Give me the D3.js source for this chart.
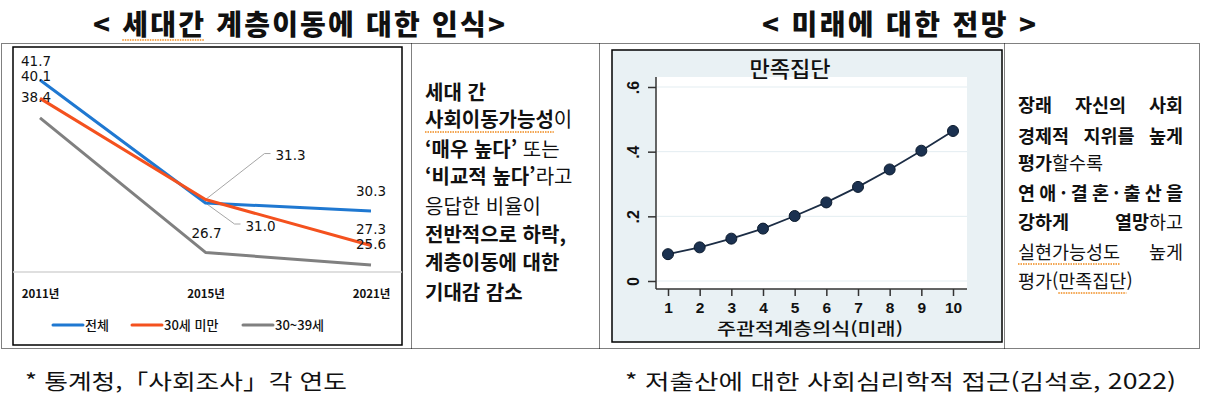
<!DOCTYPE html>
<html lang="ko">
<head>
<meta charset="utf-8">
<script src="https://cdn.jsdelivr.net/npm/d3@7"></script>
<style>
  html, body { margin: 0; padding: 0; background: #fff; }
  svg { display: block; }
  text { fill: #111; }
</style>
</head>
<body>
<svg id="fig" width="1214" height="401"></svg>
<script>
/* ============================================================
   Two-panel figure: intergenerational mobility perception (left)
   and expectation for the future (right), plus notes.
   ============================================================ */

// ---- left panel data -------------------------------------------
const years = ["2011년", "2015년", "2021년"];
const seriesNames = ["전체", "30세 미만", "30~39세"];
const totalVals = [41.7, 31.0, 30.3];
const under30Vals = [40.1, 31.3, 27.3];
const age30sVals = [38.4, 26.7, 25.6];

// ---- right panel data ------------------------------------------
const levels = [1, 2, 3, 4, 5, 6, 7, 8, 9, 10];
const satisfiedVals = [0.083, 0.104, 0.131, 0.162, 0.201, 0.243, 0.291, 0.345, 0.403, 0.464];
const yTicks = [0, 0.2, 0.4, 0.6];

(function () {
    "use strict";

    const KR = "'Noto Sans CJK KR', 'Noto Sans', sans-serif";
    const svg = d3.select("#fig");

    // ---- titles ------------------------------------------------
    function title(parts, x0, len) {
        const t = svg.append("text")
            .attr("x", x0).attr("y", 35)
            .attr("font-family", KR).attr("font-size", 28).attr("font-weight", 900)
            .attr("textLength", len).attr("lengthAdjust", "spacing");
        parts.forEach(p => t.append("tspan").attr("class", p[1] ? "u" : null).text(p[0]));
        return t;
    }
    title([["< ", 0], ["세대간", 1], [" 계층이동에 대한 인식>", 0]], 93, 412);
    title([["< 미래에 대한 전망 >", 0]], 762, 274);

    // ---- dotted table frame -----------------------------------
    const dot = l => l.attr("stroke", "#000").attr("stroke-width", 1)
        .attr("stroke-dasharray", "1,1").attr("fill", "none");
    const frame = svg.append("g");
    frame.append("rect").attr("x", 1.5).attr("y", 43.5).attr("width", 1198).attr("height", 305).call(dot);
    [411.5, 599.5, 1004.5].forEach(xv => {
        frame.append("line").attr("x1", xv).attr("x2", xv).attr("y1", 43.5).attr("y2", 348.5).call(dot);
    });

    // ============================================================
    //  Left chart: line chart with data labels
    // ============================================================
    const left = svg.append("g");
    left.append("rect").attr("x", 13).attr("y", 47).attr("width", 389).attr("height", 298)
        .attr("fill", "#fff").attr("stroke", "#000").attr("stroke-width", 1.5);

    const xL = d3.scalePoint().domain(years).range([40, 371]);
    const yL = d3.scaleLinear().domain([25, 45]).range([272, 42]);

    const series = [
        { name: seriesNames[0], vals: totalVals,   color: "#1f78d1" },
        { name: seriesNames[1], vals: under30Vals, color: "#f4511e" },
        { name: seriesNames[2], vals: age30sVals,  color: "#808080" }
    ];

    // baseline axis
    left.append("line").attr("x1", 13).attr("x2", 402)
        .attr("y1", yL(25)).attr("y2", yL(25))
        .attr("stroke", "#d4d4d4").attr("stroke-width", 1.5);

    // leader lines for the two crowded 2015 labels: [series, elbow dx, elbow dy]
    const callouts = [[0, 29, 21], [1, 59, -46]];
    callouts.forEach(([si, ex, ey]) => {
        const px = xL(years[1]), py = yL(series[si].vals[1]);
        left.append("polyline")
            .attr("points", [[px, py], [px + ex, py + ey], [px + ex + 6, py + ey]].join(" "))
            .attr("fill", "none").attr("stroke", "#a6a6a6").attr("stroke-width", 1);
    });

    const line = d3.line().x((d, i) => xL(years[i])).y(d => yL(d));
    series.forEach(s => {
        left.append("path").attr("d", line(s.vals))
            .attr("fill", "none").attr("stroke", s.color)
            .attr("stroke-width", 3).attr("stroke-linejoin", "round");
    });

    // label offsets from each point [dx, dy] (start-anchored)
    const labelOff = [
        [[-19, -14], [40, 28], [-15, -15]],
        [[-19, -17], [70, -40], [-15, -12]],
        [[-19, -16], [-14, -14], [-15, -16]]
    ];
    series.forEach((s, si) => {
        s.vals.forEach((v, i) => {
            left.append("text")
                .attr("x", xL(years[i]) + labelOff[si][i][0])
                .attr("y", yL(v) + labelOff[si][i][1])
                .attr("font-family", "'DejaVu Sans', Verdana, sans-serif")
                .attr("font-size", 13.5).attr("fill", "#222")
                .text(v.toFixed(1));
        });
    });

    const xAxL = left.append("g").attr("transform", "translate(0,298)")
        .call(d3.axisBottom(xL).tickSize(0).tickPadding(0));
    xAxL.select(".domain").remove();
    xAxL.selectAll("text").attr("dy", null).attr("y", 0)
        .attr("font-family", KR).attr("font-size", 11.5).attr("font-weight", 700)
        .attr("fill", "#262626");

    // legend
    const legX = [53, 132, 243];
    series.forEach((s, i) => {
        left.append("line").attr("x1", legX[i]).attr("x2", legX[i] + 30)
            .attr("y1", 325).attr("y2", 325)
            .attr("stroke", s.color).attr("stroke-width", 3).attr("stroke-linecap", "round");
        left.append("text").attr("x", legX[i] + 32).attr("y", 330)
            .attr("font-family", KR).attr("font-size", 13).attr("font-weight", 500)
            .attr("fill", "#333").text(s.name);
    });

    // ============================================================
    //  Right chart: Stata-style connected scatter
    // ============================================================
    const right = svg.append("g");
    right.append("rect").attr("x", 612).attr("y", 50).attr("width", 390).attr("height", 292)
        .attr("fill", "#e9f1f4").attr("stroke", "#000").attr("stroke-width", 1.5);

    const plot = { left: 656, right: 967, top: 77, bottom: 289 };
    right.append("rect").attr("x", plot.left).attr("y", plot.top)
        .attr("width", plot.right - plot.left).attr("height", plot.bottom - plot.top)
        .attr("fill", "#fff");

    const xR = d3.scaleLinear().domain([1, 10]).range([668, 953]);
    const yR = d3.scaleLinear().domain([0, 0.6]).range([281, 87]);

    right.selectAll("line.grid").data(yTicks).join("line").attr("class", "grid")
        .attr("x1", plot.left + 1).attr("x2", plot.right)
        .attr("y1", d => yR(d)).attr("y2", d => yR(d))
        .attr("stroke", "#e3edf1").attr("stroke-width", 1);

    right.append("text").attr("x", 790).attr("y", 77).attr("text-anchor", "middle")
        .attr("font-family", KR).attr("font-size", 22).attr("font-weight", 500).attr("fill", "#222")
        .text("만족집단");

    const yAxR = right.append("g").attr("transform", `translate(${plot.left},0)`)
        .call(d3.axisLeft(yR).tickValues(yTicks).tickSize(8)
            .tickFormat(d => d === 0 ? "0" : d3.format(".1f")(d).replace(/^0/, "")));
    yAxR.select(".domain").remove();
    yAxR.selectAll("line").attr("stroke", "#333").attr("stroke-width", 1.5);
    yAxR.selectAll("text")
        .attr("transform", "rotate(-90)").attr("x", 0).attr("y", -17).attr("dy", null)
        .attr("text-anchor", "middle")
        .attr("font-family", "'Liberation Sans', Arial, sans-serif")
        .attr("font-size", 16).attr("font-weight", 700).attr("fill", "#222");

    const xAxR = right.append("g").attr("transform", `translate(0,${plot.bottom})`)
        .call(d3.axisBottom(xR).tickValues(levels).tickSize(7).tickPadding(6));
    xAxR.select(".domain").remove();
    xAxR.selectAll("line").attr("stroke", "#333").attr("stroke-width", 1.5);
    xAxR.selectAll("text")
        .attr("font-family", "'Liberation Sans', Arial, sans-serif")
        .attr("font-size", 15.5).attr("font-weight", 700).attr("fill", "#222");

    right.append("line").attr("x1", plot.left).attr("x2", plot.left)
        .attr("y1", plot.top).attr("y2", plot.bottom)
        .attr("stroke", "#333").attr("stroke-width", 1.5);
    right.append("line").attr("x1", plot.left).attr("x2", plot.right)
        .attr("y1", plot.bottom).attr("y2", plot.bottom)
        .attr("stroke", "#333").attr("stroke-width", 1.5);

    right.append("text").attr("x", 810).attr("y", 335).attr("text-anchor", "middle")
        .attr("font-family", KR).attr("font-size", 16.5).attr("font-weight", 500).attr("fill", "#222")
        .attr("textLength", 186).attr("lengthAdjust", "spacingAndGlyphs")
        .text("주관적계층의식(미래)");

    const pts = levels.map((lv, i) => [lv, satisfiedVals[i]]);
    right.append("path")
        .attr("d", d3.line().x(d => xR(d[0])).y(d => yR(d[1]))(pts))
        .attr("fill", "none").attr("stroke", "#1c2d45").attr("stroke-width", 1.8);
    right.selectAll("circle").data(pts).join("circle")
        .attr("cx", d => xR(d[0])).attr("cy", d => yR(d[1])).attr("r", 5.5)
        .attr("fill", "#1b3150").attr("stroke", "#0b1a2d").attr("stroke-width", 1);

    // ============================================================
    //  Text cells (word-justified paragraphs)
    // ============================================================
    // segment: [text, bold, underline]
    const midLines = [
        [[["세대 간", 1]]],
        [[["사회이동가능성", 1, 1], ["이", 0]]],
        [[["‘매우 높다’", 1], [" 또는", 0]]],
        [[["‘비교적 높다’", 1], ["라고", 0]]],
        [[["응답한 비율이", 0]]],
        [[["전반적으로 하락,", 1]]],
        [[["계층이동에 대한", 1]]],
        [[["기대감 감소", 1]]]
    ];
    const midBase = [100, 127, 157, 184, 214, 242, 270, 300];

    const rightLines = [
        { j: 1, w: [[["장래", 1]], [["자신의", 1]], [["사회", 1]]] },
        { j: 1, w: [[["경제적", 1]], [["지위를", 1]], [["높게", 1]]] },
        { j: 0, w: [[["평가", 1], ["할수록", 0]]] },
        { j: 1, w: [[["연애·결혼·출산을", 1]]] },
        { j: 1, w: [[["강하게", 1]], [["열망", 1], ["하고", 0]]] },
        { j: 1, w: [[["실현가능성도", 0, 1]], [["높게", 0]]] },
        { j: 0, w: [[["평가(", 0], ["만족집단", 0, 1], [")", 0]]] }
    ];
    const rightBase = [112, 143, 170, 200, 229, 259, 288];

    function paragraph(lines, base, x0, width, size) {
        const g = svg.append("g");
        lines.forEach((ln, li) => {
            const words = ln.w || ln;
            const texts = words.map(word => {
                const t = g.append("text").attr("y", base[li])
                    .attr("font-family", KR).attr("font-size", size);
                word.forEach(seg => t.append("tspan")
                    .attr("font-weight", seg[1] ? 700 : 400)
                    .attr("class", seg[2] ? "u" : null)
                    .text(seg[0]));
                return t;
            });
            const widths = texts.map(t => t.node().getComputedTextLength());
            if (ln.j && texts.length > 1) {
                const gap = (width - d3.sum(widths)) / (texts.length - 1);
                let x = x0;
                texts.forEach((t, i) => { t.attr("x", x); x += widths[i] + gap; });
            } else if (ln.j) {
                texts[0].attr("x", x0).attr("textLength", width).attr("lengthAdjust", "spacing");
            } else {
                texts.forEach(t => t.attr("x", x0));
            }
        });
    }
    paragraph(midLines, midBase, 425, 0, 20);
    paragraph(rightLines, rightBase, 1018, 165, 18.5);

    // ---- notes --------------------------------------------------
    [["* 통계청,「사회조사」각 연도", 25, 322], ["* 저출산에 대한 사회심리학적 접근(김석호, 2022)", 625, 551]]
        .forEach(([txt, x, len]) => {
            svg.append("text").attr("x", x).attr("y", 389)
                .attr("font-family", KR).attr("font-size", 21).attr("fill", "#111")
                .attr("textLength", len).attr("lengthAdjust", "spacingAndGlyphs")
                .text(txt);
        });

    // ---- spell-check style dotted underlines -------------------
    svg.selectAll("tspan.u").each(function () {
        const n = this.getNumberOfChars();
        const a = this.getStartPositionOfChar(0);
        const b = this.getEndPositionOfChar(n - 1);
        svg.append("line").attr("x1", a.x).attr("x2", b.x)
            .attr("y1", a.y + 5).attr("y2", a.y + 5)
            .attr("stroke", "#f08a1c").attr("stroke-width", 1.3)
            .attr("stroke-dasharray", "1.5,1");
    });
})();
</script>
</body>
</html>
